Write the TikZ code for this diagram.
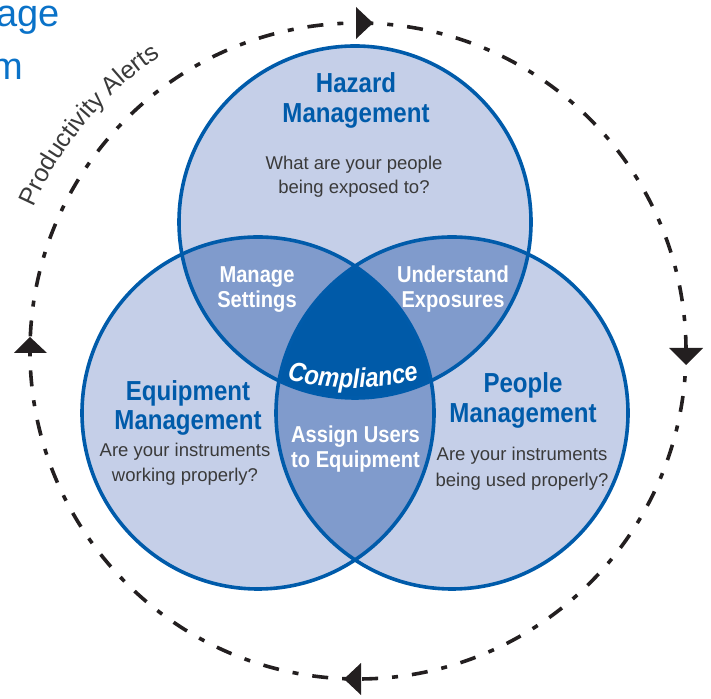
\documentclass[tikz,border=0pt]{standalone}
\usepackage{fontspec}
\setmainfont{Liberation Sans}
\newfontfamily\condb{Liberation Sans}[FakeStretch=0.875]
\usetikzlibrary{decorations.text}
\definecolor{lightfill}{HTML}{C5CFE8}
\definecolor{midfill}{HTML}{809BCC}
\definecolor{darkfill}{HTML}{005AA8}
\definecolor{outblue}{HTML}{005BAA}
\definecolor{headblue}{HTML}{005BAA}
\definecolor{titleblue}{HTML}{0A72C8}
\definecolor{bodygray}{HTML}{3A3A3A}
\definecolor{dashblack}{HTML}{231F20}
\tikzset{
  headtxt/.style={anchor=base, inner sep=0pt, text=headblue, font=\condb\bfseries\fontsize{27.5pt}{30pt}\selectfont},
  bodytxt/.style={anchor=base, inner sep=0pt, text=bodygray, font=\fontsize{18.5pt}{22pt}\selectfont},
  whitetxt/.style={anchor=base, inner sep=0pt, text=white, font=\condb\bfseries\fontsize{23pt}{26pt}\selectfont},
  titletxt/.style={anchor=base east, inner sep=0pt, text=titleblue, font=\fontsize{38pt}{44pt}\selectfont},
  ring/.style={draw=outblue, line width=3.6pt},
  loopline/.style={draw=dashblack, line width=3.6pt, dash pattern=on 16pt off 14pt on 6pt off 14pt},
  arrowtri/.style={fill=dashblack},
}
\begin{document}
\begin{tikzpicture}[x=1pt,y=1pt]
\useasboundingbox (0,0) rectangle (711,698);
\coordinate (T) at (355,476);
\coordinate (L) at (258,285);
\coordinate (R) at (452,285);
\coordinate (C) at (358,347);
% base fills
\fill[lightfill] (T) circle[radius=176pt];
\fill[lightfill] (L) circle[radius=176pt];
\fill[lightfill] (R) circle[radius=176pt];
% pairwise overlaps
\begin{scope}
  \clip (T) circle[radius=176pt];
  \fill[midfill] (L) circle[radius=176pt];
  \fill[midfill] (R) circle[radius=176pt];
\end{scope}
\begin{scope}
  \clip (L) circle[radius=176pt];
  \fill[midfill] (R) circle[radius=176pt];
\end{scope}
% triple overlap
\begin{scope}
  \clip (T) circle[radius=176pt];
  \clip (L) circle[radius=176pt];
  \fill[darkfill] (R) circle[radius=176pt];
\end{scope}
% outlines
\draw[ring] (T) circle[radius=176pt];
\draw[ring] (L) circle[radius=176pt];
\draw[ring] (R) circle[radius=176pt];
% dashed cycle
\draw[loopline] (C) circle[radius=328pt];
\fill[arrowtri] (356,691) -- (373,675) -- (356,659) -- cycle;
\fill[arrowtri] (669,350) -- (686,333) -- (703,350) -- cycle;
\fill[arrowtri] (361,35) -- (344,19) -- (361,3) -- cycle;
\fill[arrowtri] (14,345) -- (30,361) -- (47,345) -- cycle;
% title fragments
\node[titletxt] (ttl1) at (60,671) {age};
\node[titletxt] (ttl2) at (23,618) {m};
% productivity alerts
\path[decorate, decoration={text along path, text={|\fontsize{25pt}{28pt}\selectfont|Productivity Alerts}, text color=bodygray, text align=center}]
  (C) ++(162:355pt) arc[start angle=162, end angle=118, radius=355pt];
% hazard
\node[headtxt] (haz1) at (356,605) {Hazard};
\node[headtxt] (haz2) at (356,575) {Management};
\node[bodytxt] (hazq1) at (354,528) {What are your people};
\node[bodytxt] (hazq2) at (354,504) {being exposed to?};
% equipment
\node[headtxt] (eq1) at (188,297) {Equipment};
\node[headtxt] (eq2) at (188,268) {Management};
\node[bodytxt] (eqq1) at (185,241) {Are your instruments};
\node[bodytxt] (eqq2) at (185,216) {working properly?};
% people
\node[headtxt] (pe1) at (523,305) {People};
\node[headtxt] (pe2) at (523,275) {Management};
\node[bodytxt] (peq1) at (522,237) {Are your instruments};
\node[bodytxt] (peq2) at (522,211) {being used properly?};
% overlaps
\node[whitetxt] (ms1) at (257,415) {Manage};
\node[whitetxt] (ms2) at (257,390) {Settings};
\node[whitetxt] (ue1) at (453,415) {Understand};
\node[whitetxt] (ue2) at (453,390) {Exposures};
\node[whitetxt] (au1) at (355.5,255) {Assign Users};
\node[whitetxt] (au2) at (355.5,230) {to Equipment};
% compliance
\path[decorate, decoration={text along path, text={|\condb\bfseries\itshape\fontsize{27pt}{30pt}\selectfont|Compliance}, text color=white, text align=center}]
  (353,572) ++(245:262pt) arc[start angle=245, end angle=295, radius=262pt];
\end{tikzpicture}
\end{document}
